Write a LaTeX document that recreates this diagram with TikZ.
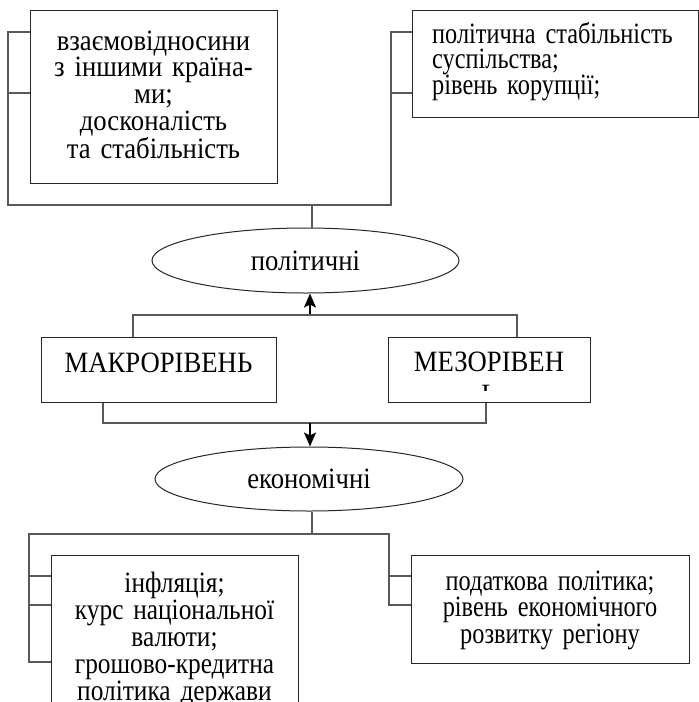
\documentclass[tikz,border=0pt]{standalone}
\usepackage{fontspec}
\setmainfont{Liberation Serif}
\newfontfamily\fwide[FakeStretch=0.905]{Liberation Serif}
\newfontfamily\fmid[FakeStretch=0.86]{Liberation Serif}
\newfontfamily\fnarrow[FakeStretch=0.825]{Liberation Serif}
\usetikzlibrary{shapes.geometric,arrows.meta}
\begin{document}
\begin{tikzpicture}[x=1pt,y=-1pt,
  box/.style={draw=black!85, line width=1pt, inner sep=0pt, anchor=north west},
  oval/.style={draw=black!85, ellipse, line width=1pt, inner sep=0pt, font=\fwide\fontsize{29.5}{26}\selectfont},
  conn/.style={draw=black!65, line width=1.1pt},
  arr/.style={draw=black, line width=2pt, -{Stealth[length=14pt,width=12pt,inset=3pt]}},
  txt/.style={font=\fwide\fontsize{29.5}{26.75}\selectfont, inner sep=0pt, anchor=base},
]
\useasboundingbox (0,0) rectangle (699,702);

% boxes
\node[box, minimum width=247pt, minimum height=173pt] (b1) at (30,10) {};
\node[box, minimum width=286pt, minimum height=107pt] (b2) at (412,10) {};
\node[box, minimum width=235pt, minimum height=65pt] (bm) at (41,337) {};
\node[box, minimum width=202pt, minimum height=65pt] (bz) at (388,337) {};
\node[box, minimum width=247pt, minimum height=180pt] (b3) at (51,555) {};
\node[box, minimum width=278pt, minimum height=108pt] (b4) at (411,555) {};
\node[oval, minimum width=307pt, minimum height=65pt] (e1) at (305.5,260.5) {політичні};
\node[oval, minimum width=308pt, minimum height=64pt] (e2) at (309,479) {економічні};

% texts
\node[txt, text width=247pt, align=center] (t1) at (153.5,50) {взаємовідносини\\з іншими країна-\\ми;\\досконалість\\та стабільність};
\node[txt, text width=266pt, align=left, anchor=base west, font=\fnarrow\fontsize{29.5}{25}\selectfont] (t2) at (432,43) {політична стабільність\\суспільства;\\рівень корупції;};
\node[txt] (tm) at (158.5,372) {МАКРОРІВЕНЬ};
\begin{scope}
\clip (388,337) rectangle (590,390);
\node[txt, text width=202pt, align=center] (tz) at (489,371) {МЕЗОРІВЕН\\[7pt]Ь};
\end{scope}
\node[txt, text width=247pt, align=center, font=\fmid\fontsize{29.5}{27}\selectfont] (t3) at (174.5,592) {інфляція;\\курс національної\\валюти;\\грошово-кредитна\\політика держави};
\node[txt, text width=278pt, align=center, font=\fnarrow\fontsize{29.5}{26.5}\selectfont] (t4) at (550,590) {податкова політика;\\рівень економічного\\розвитку регіону};

% top brackets
\draw[conn] (b1.west |- 0,32) -- (8,32) -- (8,205) -- (391,205) -- (391,32) -- (b2.west |- 0,32);
\draw[conn] (8,93) -- (b1.west |- 0,93);
\draw[conn] (391,93) -- (b2.west |- 0,93);
\draw[conn] (312,205) -- (312,0 |- e1.north);

% middle
\draw[arr] (310,315) -- (310,0 |- e1.south);
\draw[conn] (bm.north -| 133,0) -- (133,315) -- (517,315) -- (bz.north -| 517,0);
\draw[conn] (bm.south -| 103,0) -- (103,423) -- (486,423) -- (bz.south -| 486,0);
\draw[arr] (310,423) -- (310,0 |- e2.north);

% bottom brackets
\draw[conn] (312,0 |- e2.south) -- (312,534);
\draw[conn] (b3.west |- 0,662) -- (29,662) -- (29,534) -- (389,534) -- (389,605) -- (b4.west |- 0,605);
\draw[conn] (29,576) -- (b3.west |- 0,576);
\draw[conn] (29,605) -- (b3.west |- 0,605);
\draw[conn] (389,576) -- (b4.west |- 0,576);
\end{tikzpicture}
\end{document}
